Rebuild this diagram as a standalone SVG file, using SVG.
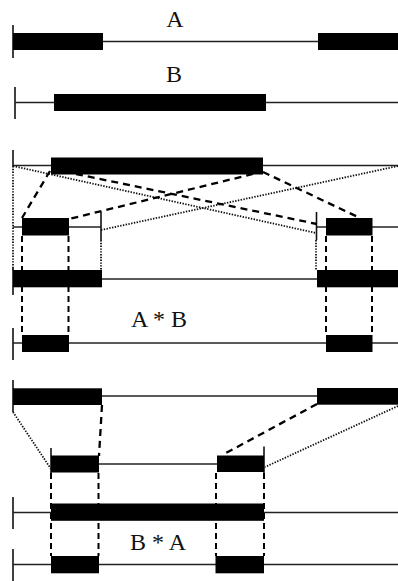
<svg xmlns="http://www.w3.org/2000/svg" width="398" height="581" viewBox="0 0 398 581">
  <style>
    .bar { fill: #000; }
    .ln { stroke: #222; stroke-width: 1.3; fill: none; }
    .tick { stroke: #111; stroke-width: 1.6; fill: none; }
    .dash { stroke: #000; stroke-width: 2.3; stroke-dasharray: 7 5; fill: none; }
    .vdash { stroke: #000; stroke-width: 2; stroke-dasharray: 6 4; fill: none; }
    .dot { stroke: #111; stroke-width: 1.8; stroke-dasharray: 1.4 1.4; fill: none; }
    .lbl { font-family: "Liberation Serif", "Times New Roman", serif; font-size: 24px; fill: #111; }
  </style>
  <rect width="398" height="581" fill="#fff"/>

  <!-- Sequence A -->
  <g id="seqA">
    <text class="lbl" x="175" y="27" text-anchor="middle">A</text>
    <line class="tick" x1="13" y1="25" x2="13" y2="58"/>
    <line class="ln" x1="13" y1="41.5" x2="398" y2="41.5"/>
    <rect class="bar" x="13" y="33" width="90" height="17"/>
    <rect class="bar" x="318" y="33" width="80" height="17"/>
  </g>

  <!-- Sequence B -->
  <g id="seqB">
    <text class="lbl" x="174" y="82" text-anchor="middle">B</text>
    <line class="tick" x1="15" y1="87" x2="15" y2="119"/>
    <line class="ln" x1="15" y1="102.5" x2="398" y2="102.5"/>
    <rect class="bar" x="54" y="94" width="212" height="17"/>
  </g>

  <!-- A * B: mask track (B) -->
  <g id="ab-mask">
    <line class="tick" x1="13" y1="150" x2="13" y2="166"/>
    <line class="ln" x1="13" y1="165.5" x2="398" y2="165.5"/>
    <rect class="bar" x="51" y="157.5" width="212" height="17"/>
  </g>

  <!-- A * B: projected track -->
  <g id="ab-proj">
    <line class="ln" x1="13" y1="227" x2="101" y2="227"/>
    <line class="tick" x1="101" y1="212" x2="101" y2="240"/>
    <rect class="bar" x="22" y="218" width="47" height="17.5"/>
    <line class="ln" x1="316" y1="227" x2="398" y2="227"/>
    <line class="tick" x1="316.5" y1="212" x2="316.5" y2="240"/>
    <rect class="bar" x="326" y="218" width="46.5" height="17.5"/>
  </g>

  <!-- A * B: sequence A -->
  <g id="ab-a">
    <line class="tick" x1="13" y1="268" x2="13" y2="295"/>
    <line class="ln" x1="13" y1="279" x2="398" y2="279"/>
    <rect class="bar" x="13" y="270" width="89" height="17.3"/>
    <rect class="bar" x="317" y="270" width="81" height="17.3"/>
  </g>

  <!-- A * B: result -->
  <g id="ab-result">
    <text class="lbl" x="131" y="327">A * B</text>
    <line class="tick" x1="13" y1="328" x2="13" y2="360"/>
    <line class="ln" x1="13" y1="343" x2="398" y2="343"/>
    <rect class="bar" x="22" y="335" width="47" height="17"/>
    <rect class="bar" x="326" y="335" width="46.5" height="17"/>
  </g>

  <!-- B * A: mask track (A) -->
  <g id="ba-mask">
    <line class="tick" x1="13" y1="380" x2="13" y2="412"/>
    <line class="ln" x1="13" y1="396" x2="398" y2="396"/>
    <rect class="bar" x="13" y="388.3" width="89" height="16.7"/>
    <rect class="bar" x="317" y="388" width="81" height="16.7"/>
  </g>

  <!-- B * A: projected track -->
  <g id="ba-proj">
    <line class="ln" x1="51" y1="464" x2="264" y2="464"/>
    <line class="tick" x1="51" y1="448" x2="51" y2="473"/>
    <line class="tick" x1="264" y1="446.5" x2="264" y2="473"/>
    <rect class="bar" x="51" y="455.5" width="48" height="17"/>
    <rect class="bar" x="217" y="455.5" width="47" height="16.5"/>
  </g>

  <!-- B * A: sequence B -->
  <g id="ba-b">
    <line class="tick" x1="13" y1="497" x2="13" y2="529"/>
    <line class="ln" x1="13" y1="512.5" x2="398" y2="512.5"/>
    <rect class="bar" x="51" y="503.5" width="213" height="17.3"/>
  </g>

  <!-- B * A: result -->
  <g id="ba-result">
    <text class="lbl" x="130" y="550">B * A</text>
    <line class="tick" x1="13" y1="549" x2="13" y2="581"/>
    <line class="ln" x1="13" y1="564.5" x2="398" y2="564.5"/>
    <rect class="bar" x="51" y="556" width="48" height="17.3"/>
    <rect class="bar" x="215.5" y="556" width="48.5" height="17.3"/>
  </g>

  <!-- Connectors -->
  <g id="connectors">
    <!-- A * B: projection of mask onto sequence -->
    <line class="dot" x1="13" y1="166" x2="316" y2="233"/>
    <line class="dot" x1="398" y1="166" x2="101" y2="230"/>
    <line class="dash" x1="50" y1="171" x2="22" y2="218"/>
    <line class="dash" x1="76" y1="174" x2="317" y2="224"/>
    <line class="dash" x1="253" y1="174" x2="69" y2="219"/>
    <line class="dash" x1="263" y1="172" x2="360" y2="218"/>
    <!-- A * B: vertical guides -->
    <line class="dot" x1="13" y1="166" x2="13" y2="270"/>
    <line class="dot" x1="101" y1="240" x2="101" y2="270"/>
    <line class="dot" x1="316" y1="240" x2="316" y2="270"/>
    <line class="vdash" x1="22" y1="236" x2="22" y2="335"/>
    <line class="vdash" x1="68.5" y1="236" x2="68.5" y2="335"/>
    <line class="vdash" x1="326" y1="236" x2="326" y2="335"/>
    <line class="vdash" x1="372" y1="236" x2="372" y2="335"/>

    <!-- B * A: projection of mask onto sequence -->
    <line class="dot" x1="13" y1="412" x2="51" y2="469"/>
    <line class="dash" x1="102" y1="405" x2="99" y2="456"/>
    <line class="dash" x1="317" y1="404" x2="226" y2="453"/>
    <line class="dot" x1="398" y1="406" x2="265" y2="467"/>
    <!-- B * A: vertical guides -->
    <line class="vdash" x1="51" y1="473" x2="51" y2="556"/>
    <line class="vdash" x1="98.5" y1="473" x2="98.5" y2="556"/>
    <line class="vdash" x1="216" y1="473" x2="216" y2="556"/>
    <line class="vdash" x1="264" y1="473" x2="264" y2="556"/>
  </g>
</svg>
